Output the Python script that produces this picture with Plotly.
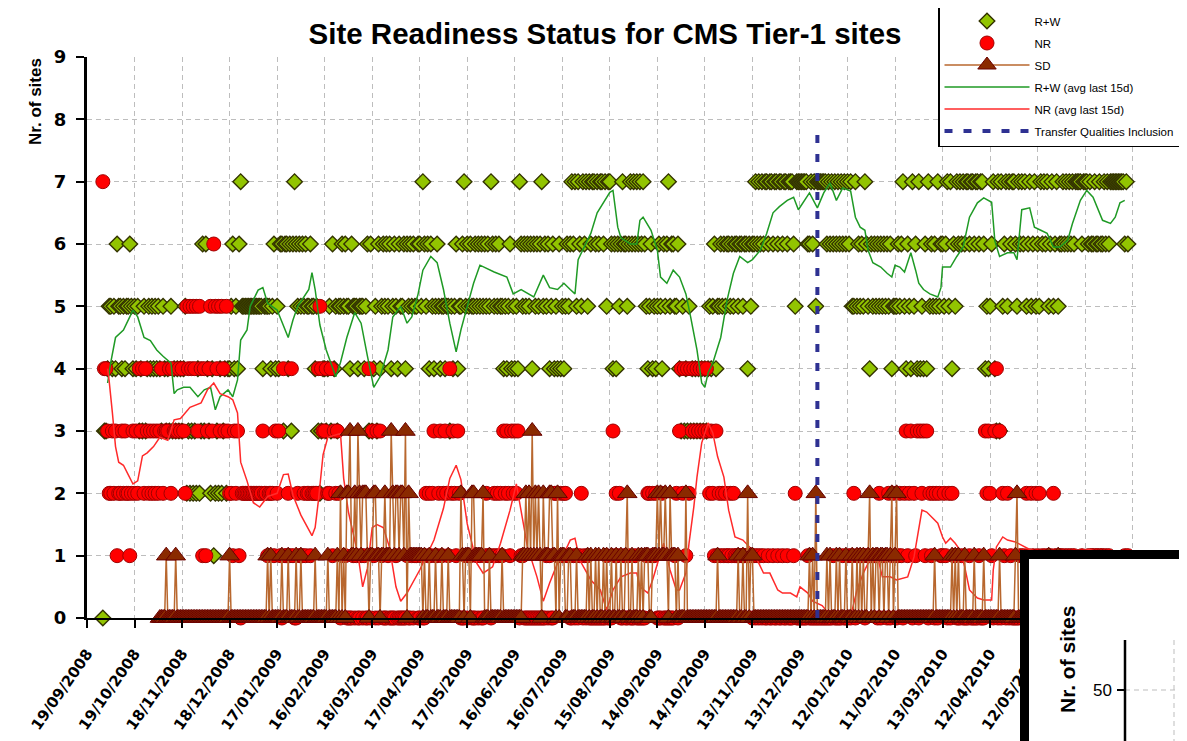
import pandas as pd
import plotly.graph_objects as go

START = pd.Timestamp("2008-09-19")

# daily values, one character per day ('-' = no value), 30 days per row
RW_CHUNKS = [
    "----------" "0334554546" "5545455654",
    "5453435345" "4545454354" "3435343434",
    "3452323232" "4236364324" "1232423424",
    "4564546755" "5555555555" "5455554564",
    "5466366463" "6765656565" "5655453234",
    "4345364535" "5656554655" "5455545636",
    "3453645656" "5645654655" "6465656556",
    "6576564654" "5654554553" "5456455675",
    "6565565656" "5656576565" "6554545645",
    "4547656565" "6465656756" "5645645464",
    "5456567675" "7657675767" "7676776757",
    "7646465676" "6567676767" "6765456454",
    "5654656756" "6556435343" "5343434343",
    "4345456455" "6565665656" "6566566465",
    "6676767677" "6776776776" "7767776577",
    "7777766767" "5777777676" "7676767676",
    "7675575656" "5765465656" "5656565645",
    "5565675465" "4756474546" "4756565756",
    "6567574657" "6767677677" "6776776454",
    "5674373756" "7576776576" "7675675675",
    "6576767567" "5675667676" "7676777767",
    "7767667667" "6676767777" "77777676--",
]
NR_CHUNKS = [
    "----------" "7443223231" "2232322123",
    "2324342432" "3232323423" "3342433343",
    "4325454545" "3541413453" "6545354353",
    "2213231022" "2222222222" "2322122213",
    "2310411214" "1002111212" "2122224543",
    "3422413232" "0111000010" "1001010040",
    "3103031000" "1000010000" "0010010110",
    "0100212123" "1123123214" "2321320001",
    "0110001010" "0121101212" "1213232132",
    "3230110000" "0000000000" "1010022112",
    "1221100101" "0120101000" "0000000010",
    "0031212001" "0010001000" "0001221212",
    "0002000000" "0120342414" "2434343434",
    "3432321312" "1212112121" "1111111111",
    "0101010100" "1001001001" "0010001200",
    "0000010000" "0000000000" "0100000100",
    "0101201111" "1011111110" "2011102012",
    "1012102312" "3021303231" "3021202021",
    "1210202110" "0010000100" "0001000323",
    "2103403021" "0201000001" "0102102102",
    "1201010110" "2101110101" "0101000010",
    "0010110110" "1101010000" "00000101--",
]
SD_CHUNKS = [
    "----------" "----------" "----------",
    "----------" "------0000" "1000001000",
    "0000000000" "0000000000" "0000000000",
    "1000000000" "0000000000" "0000101000",
    "0001000100" "0010010000" "0000100000",
    "0010000010" "2010223112" "1321222101",
    "1221101121" "1132122122" "1302111111",
    "1101001000" "1000100010" "0000002101",
    "1102211111" "2000100000" "0010000000",
    "0000011212" "1312121021" "1122110201",
    "1100110001" "0000001010" "0101001010",
    "0100100100" "1200100010" "1011100111",
    "2121121021" "1101000020" "0000000000",
    "0000000010" "0000000000" "0100100201",
    "1000000000" "0000000000" "0000000000",
    "0000001010" "2000000101" "0001010001",
    "0001001010" "1001201011" "0110110120",
    "1200000000" "0000000000" "0000010000",
    "0000001010" "1000100000" "1000001000",
    "0000001000" "0000001200" "0000000000",
    "0000000100" "0001000000" "0000000000",
    "0000000000" "0000000000" "00000000--",
]

# 15-day averages (day offset from START, value)
RW_AVG_DAY = [13, 15, 18, 23, 27, 29, 32, 36, 40, 44,
              48, 53, 55, 57, 61, 65, 70, 74, 78, 81,
              84, 89, 92, 95, 97, 101, 103, 108, 111, 114,
              120, 124, 127, 130, 133, 140, 142, 144, 147, 151,
              157, 160, 164, 169, 173, 177, 181, 185, 190, 193,
              198, 202, 205, 209, 212, 217, 221, 225, 229, 233,
              236, 240, 244, 248, 257, 265, 269, 274, 282, 288,
              292, 297, 301, 305, 308, 310, 313, 318, 322, 326,
              330, 332, 335, 337, 343, 347, 349, 351, 356, 360,
              362, 366, 370, 374, 378, 381, 385, 388, 390, 392,
              395, 400, 404, 408, 412, 417, 420, 425, 429, 433,
              437, 442, 446, 449, 452, 456, 461, 465, 469, 473,
              477, 482, 485, 488, 491, 493, 496, 501, 505, 508,
              510, 513, 516, 520, 523, 525, 528, 532, 537, 539,
              540, 545, 549, 553, 557, 562, 566, 571, 573, 576,
              581, 585, 587, 590, 595, 598, 602, 606, 610, 614,
              619, 622, 627, 631, 635, 638, 641, 646, 649, 652,
              655]
RW_AVG_VAL = [3.77, 4.1, 4.5, 4.62, 4.83, 4.94, 4.83, 4.5, 4.45, 4.3,
              4.2, 4.09, 3.6, 3.66, 3.7, 3.7, 3.55, 3.66, 3.7, 3.34,
              3.55, 3.66, 3.55, 3.82, 4.46, 4.62, 5.0, 5.26, 5.3, 5.05,
              4.94, 4.67, 4.5, 4.78, 5.0, 5.27, 5.54, 5.27, 4.7, 4.3,
              3.87, 4.1, 4.5, 4.9, 4.73, 4.2, 3.7, 3.87, 4.3, 4.83,
              5.0, 4.73, 4.83, 5.2, 5.58, 5.8, 5.7, 5.27, 4.73, 4.27,
              4.62, 5.0, 5.37, 5.66, 5.55, 5.47, 5.2, 5.27, 5.15, 5.5,
              5.3, 5.27, 5.37, 5.27, 5.2, 5.75, 5.9, 6.17, 6.5, 6.66,
              6.83, 6.86, 6.27, 6.1, 6.0, 6.0, 6.38, 6.43, 6.22, 5.9,
              5.47, 5.37, 5.58, 5.47, 5.2, 4.83, 4.3, 3.77, 3.7, 3.93,
              4.09, 4.5, 5.1, 5.53, 5.8, 5.7, 5.75, 5.9, 6.17, 6.5,
              6.6, 6.7, 6.75, 6.55, 6.66, 6.82, 6.58, 6.82, 6.98, 6.7,
              6.9, 6.85, 6.43, 6.27, 6.22, 5.9, 5.7, 5.63, 5.53, 5.47,
              5.66, 5.63, 5.55, 5.86, 5.58, 5.37, 5.27, 5.2, 5.15, 5.3,
              5.63, 5.63, 5.8, 5.95, 6.43, 6.66, 6.74, 6.67, 6.05, 5.8,
              5.86, 5.86, 5.75, 6.55, 6.58, 6.27, 6.22, 6.17, 5.95, 5.95,
              6.06, 6.33, 6.7, 6.86, 6.75, 6.55, 6.38, 6.33, 6.43, 6.66,
              6.7]
NR_AVG_DAY = [13, 14, 16, 18, 20, 23, 26, 29, 32, 35,
              38, 42, 46, 51, 55, 59, 65, 72, 76, 80,
              84, 89, 92, 95, 97, 101, 105, 109, 114, 120,
              124, 127, 130, 135, 142, 144, 146, 149, 152, 160,
              162, 165, 171, 174, 177, 180, 183, 187, 191, 195,
              198, 202, 210, 219, 225, 229, 233, 236, 240, 246,
              250, 256, 261, 267, 271, 278, 284, 288, 292, 297,
              303, 305, 308, 311, 318, 324, 328, 332, 337, 343,
              347, 349, 354, 357, 362, 364, 368, 372, 374, 378,
              380, 383, 385, 388, 392, 395, 398, 402, 405, 409,
              414, 420, 424, 427, 431, 436, 439, 444, 448, 450,
              455, 458, 464, 469, 478, 483, 486, 490, 494, 499,
              502, 507, 511, 518, 522, 525, 527, 530, 534, 537,
              540, 542, 545, 548, 551, 554, 557, 562, 566, 571,
              572, 574, 578, 581, 586, 595, 608, 621, 633, 646,
              655]
NR_AVG_VAL = [4.0, 3.8, 3.3, 2.75, 2.5, 2.45, 2.3, 2.15, 2.2, 2.6,
              2.65, 2.75, 2.9, 2.85, 3.18, 3.2, 3.38, 3.45, 3.66, 3.77,
              3.6, 3.55, 3.5, 3.29, 2.5, 2.2, 1.85, 1.78, 1.95, 2.0,
              2.3, 2.31, 1.97, 1.65, 1.32, 1.45, 1.87, 2.62, 2.9, 2.96,
              2.24, 1.7, 1.02, 0.5, 0.8, 1.45, 1.5, 1.45, 1.13, 0.5,
              0.27, 0.4, 0.77, 1.25, 1.76, 2.24, 2.45, 2.22, 1.51, 0.88,
              0.72, 0.82, 1.2, 1.73, 2.15, 1.14, 0.66, 0.27, 0.56, 0.88,
              1.14, 1.25, 1.28, 0.93, 0.61, 0.45, 0.13, 0.45, 0.66, 0.72,
              0.72, 0.5, 0.4, 0.61, 1.04, 1.2, 0.77, 0.45, 0.45, 0.72,
              1.2, 1.78, 2.26, 2.81, 3.13, 2.97, 2.59, 2.26, 1.73, 1.3,
              1.25, 1.09, 0.88, 0.72, 0.72, 0.45, 0.4, 0.4, 0.34, 0.5,
              0.4, 0.27, 0.2, 0.05, 0.0, 0.13, 0.45, 0.72, 0.93, 0.98,
              0.66, 0.66, 0.61, 0.66, 0.98, 1.41, 1.73, 1.7, 1.6, 1.52,
              1.3, 1.2, 1.28, 1.2, 1.09, 0.82, 0.45, 0.32, 0.29, 0.29,
              0.77, 1.14, 1.3, 1.25, 1.22, 1.1, 1.0, 1.05, 1.1, 1.0,
              0.95]

TRANSFER_DAY = 461
TRANSFER_Y = [0, 7.85]

TICK_LABELS = ["19/09/2008", "19/10/2008", "18/11/2008", "18/12/2008",
               "17/01/2009", "16/02/2009", "18/03/2009", "17/04/2009",
               "17/05/2009", "16/06/2009", "16/07/2009", "15/08/2009",
               "14/09/2009", "14/10/2009", "13/11/2009", "13/12/2009",
               "12/01/2010", "11/02/2010", "13/03/2010", "12/04/2010",
               "12/05/2010", "11/06/2010", "11/07/2010"]

SANS = "Liberation Sans, Arial, sans-serif"
BOLD = "DejaVu Sans, Verdana, sans-serif"


def decode(chunks):
    s = "".join(chunks)
    return [None if c == "-" else int(c) for c in s]


rw = decode(RW_CHUNKS)
nr = decode(NR_CHUNKS)
sd = decode(SD_CHUNKS)
dates = pd.date_range(START, periods=len(rw), freq="D")
rw_avg_x = START + pd.to_timedelta(RW_AVG_DAY, unit="D")
nr_avg_x = START + pd.to_timedelta(NR_AVG_DAY, unit="D")
tr_x = START + pd.Timedelta(days=TRANSFER_DAY)
tickvals = pd.date_range(START, periods=len(TICK_LABELS), freq="30D")

fig = go.Figure()
fig.add_trace(go.Scatter(
    x=dates, y=rw, mode="markers", name="R+W", legendrank=1,
    legendgroup="g1", cliponaxis=False,
    marker=dict(symbol="diamond", size=12, color="#92c400",
                line=dict(color="#333300", width=1.4))))
fig.add_trace(go.Scatter(
    x=dates, y=nr, mode="markers", name="NR", legendrank=2,
    legendgroup="g2", cliponaxis=False,
    marker=dict(symbol="circle", size=14, color="#ff0000",
                line=dict(color="#a00000", width=1))))
fig.add_trace(go.Scatter(
    x=rw_avg_x, y=RW_AVG_VAL, mode="lines", name="R+W (avg last 15d)",
    legendrank=4, legendgroup="g4", cliponaxis=False,
    line=dict(color="#1f9a25", width=1.5)))
fig.add_trace(go.Scatter(
    x=nr_avg_x, y=NR_AVG_VAL, mode="lines", name="NR (avg last 15d)",
    legendrank=5, legendgroup="g5", cliponaxis=False,
    line=dict(color="#ff2a2a", width=1.5)))
fig.add_trace(go.Scatter(
    x=dates, y=sd, mode="lines+markers", name="SD", legendrank=3,
    legendgroup="g3", cliponaxis=False,
    line=dict(color="#b8672e", width=1.5),
    marker=dict(symbol="triangle-up", size=17, color="#8a2a00",
                line=dict(color="#6a0000", width=1))))
fig.add_trace(go.Scatter(
    x=[tr_x, tr_x], y=TRANSFER_Y, mode="lines",
    name="Transfer Qualities Inclusion", legendrank=6, legendgroup="g6",
    cliponaxis=False,
    line=dict(color="#2e3192", width=4, dash="8px,11px")))

# the page body has an 8px margin: the figure is laid out in page pixels
OFF = 8
W, H = 1187 - OFF, 741 - OFF
ML, MT = 87 - OFF, 57 - OFF
MR = W - (1139 - OFF)
MB = H - (618 - OFF)
PW, PH = W - ML - MR, H - MT - MB


def px(x):
    return (x - OFF - ML) / PW


def py(y):
    return (H - MB - (y - OFF)) / PH


shapes = [
    dict(type="rect", xref="paper", yref="paper", layer="above",
         x0=px(1024.5), x1=px(1215), y0=py(775), y1=py(554.5),
         fillcolor="white", line=dict(color="black", width=9)),
    dict(type="line", xref="paper", yref="paper", layer="above",
         x0=px(1125), x1=px(1215), y0=py(690), y1=py(690),
         line=dict(color="#bdbdbd", width=1, dash="5px,4px")),
    dict(type="line", xref="paper", yref="paper", layer="above",
         x0=px(1174), x1=px(1174), y0=py(640), y1=py(775),
         line=dict(color="#bdbdbd", width=1, dash="5px,4px")),
    dict(type="line", xref="paper", yref="paper", layer="above",
         x0=px(1125), x1=px(1125), y0=py(640), y1=py(775),
         line=dict(color="black", width=2.5)),
    dict(type="line", xref="paper", yref="paper", layer="above",
         x0=px(1117), x1=px(1125), y0=py(690), y1=py(690),
         line=dict(color="black", width=2)),
]

annotations = [
    dict(text="Nr. of sites", xref="paper", yref="paper", x=px(35), y=py(102),
         textangle=-90, showarrow=False, xanchor="center", yanchor="middle",
         font=dict(family=SANS, size=17, color="black", weight="bold")),
    dict(text="Nr. of sites", xref="paper", yref="paper", x=px(1067), y=py(660),
         textangle=-90, showarrow=False, xanchor="center", yanchor="middle",
         font=dict(family=SANS, size=21, color="black", weight="bold")),
    dict(text="50", xref="paper", yref="paper", x=px(1114), y=py(690),
         showarrow=False, xanchor="right", yanchor="middle",
         font=dict(family=SANS, size=17, color="black")),
]

fig.update_layout(
    width=W, height=H,
    margin=dict(l=ML, r=MR, t=MT, b=MB, autoexpand=False),
    paper_bgcolor="white", plot_bgcolor="white",
    title=dict(text="Site Readiness Status for CMS Tier-1 sites",
               xref="paper", x=px(605), xanchor="center",
               yref="container", y=1 - (34 - OFF) / H, yanchor="middle",
               font=dict(family=SANS, size=29.5, color="black", weight="bold")),
    showlegend=True,
    legend=dict(x=px(938), y=py(5), xanchor="left", yanchor="top",
                bgcolor="white", bordercolor="black", borderwidth=1.5,
                font=dict(family=SANS, size=11.5, color="black"),
                itemwidth=85, tracegroupgap=3),
    shapes=shapes, annotations=annotations,
)
fig.update_xaxes(
    type="date", range=[START, START + pd.Timedelta(days=664)],
    tickmode="array", tickvals=tickvals, ticktext=TICK_LABELS,
    tickangle=-55, ticklabelstandoff=11, automargin=False,
    tickfont=dict(family=BOLD, size=15, color="black", weight="bold"),
    showgrid=True, gridcolor="#bdbdbd", gridwidth=1, griddash="5px,4px",
    showline=True, linecolor="black", linewidth=2,
    ticks="outside", ticklen=8, tickwidth=2, tickcolor="black",
    zeroline=False,
)
fig.update_yaxes(
    range=[0, 9], tickmode="array", tickvals=list(range(10)),
    tickfont=dict(family=BOLD, size=18, color="black", weight="bold"),
    showgrid=True, gridcolor="#bdbdbd", gridwidth=1, griddash="5px,4px",
    showline=True, linecolor="black", linewidth=3, automargin=False,
    ticks="outside", ticklen=8, tickwidth=2, tickcolor="black",
    ticklabelstandoff=6, zeroline=False,
)

fig.write_html("out.html")
